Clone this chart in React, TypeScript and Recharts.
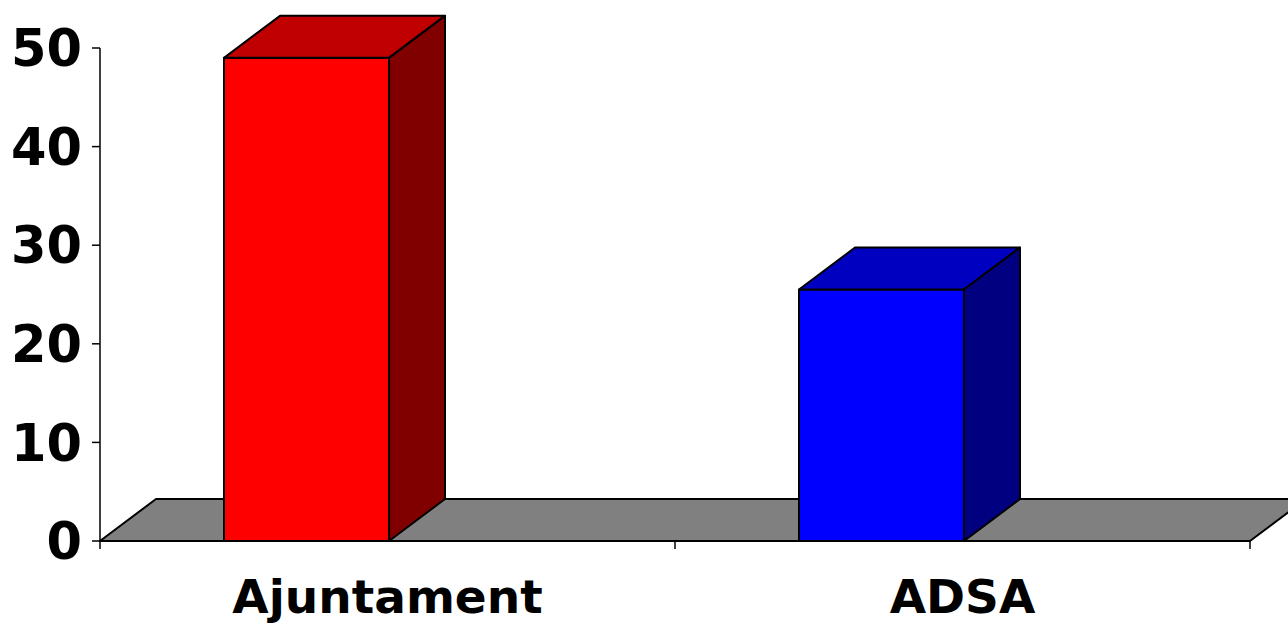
import { BarChart, Bar, XAxis, YAxis, ReferenceLine, Cell } from "recharts";

const categories = ["Ajuntament", "ADSA"];
const values = [49, 25.5];
const yTicks = [0, 10, 20, 30, 40, 50];

const frontColors = ["#ff0000", "#0000ff"];
const topColors = ["#c00000", "#0000c0"];
const sideColors = ["#800000", "#000080"];

const data = categories.map((name, i) => ({ name, value: values[i] }));

// 3d look
const DX = 56;
const DY = 42;
const BAR_SHIFT = -81;

const Box = (props: any) => {
  const { x, y, width, height, index } = props;
  const l = x + BAR_SHIFT;
  const r = l + width;
  const b = y + height;
  return (
    <g stroke="#000" strokeWidth={2} strokeLinejoin="round">
      <rect x={l} y={y} width={width} height={height} fill={frontColors[index]} />
      <polygon points={`${l},${y} ${l + DX},${y - DY} ${r + DX},${y - DY} ${r},${y}`} fill={topColors[index]} />
      <polygon points={`${r},${y} ${r + DX},${y - DY} ${r + DX},${b - DY} ${r},${b}`} fill={sideColors[index]} />
    </g>
  );
};

const Floor = (props: any) => {
  const { x1, y1, x2 } = props;
  return (
    <polygon
      points={`${x1},${y1} ${x2},${y1} ${x2 + DX},${y1 - DY} ${x1 + DX},${y1 - DY}`}
      fill="#808080"
      stroke="#000"
      strokeWidth={2}
      strokeLinejoin="round"
    />
  );
};

const CatTick = (props: any) => {
  const { x, y, payload, index, visibleTicksCount } = props;
  const half = payload && payload.offset ? payload.offset : 287.5;
  const last = index === (visibleTicksCount || categories.length) - 1;
  return (
    <g>
      <line x1={x - half} y1={y} x2={x - half} y2={y + 8} stroke="#000" strokeWidth={1.5} />
      {last && <line x1={x + half} y1={y} x2={x + half} y2={y + 8} stroke="#000" strokeWidth={1.5} />}
      <text
        x={x}
        y={y + 72}
        textAnchor="middle"
        fontFamily="DejaVu Sans"
        fontWeight="bold"
        fontSize={47}
        fill="#000"
      >
        {payload.value}
      </text>
    </g>
  );
};

export default function App() {
  return (
    <div style={{ position: "absolute", left: 0, top: 0, width: 1288, height: 624, background: "#fff" }}>
      <BarChart
        width={1288}
        height={624}
        data={data}
        margin={{ top: 48, right: 38, bottom: 0, left: 0 }}
        barSize={165}
      >
        <XAxis
          dataKey="name"
          axisLine={false}
          tickLine={false}
          tickSize={0}
          tickMargin={0}
          height={83}
          tick={<CatTick />}
          interval={0}
        />
        <YAxis
          domain={[0, 50]}
          ticks={yTicks}
          width={100}
          axisLine={{ stroke: "#000", strokeWidth: 1.5 }}
          tickLine={{ stroke: "#000", strokeWidth: 1.5 }}
          tickSize={8}
          tickMargin={10}
          tick={{ fill: "#000", fontFamily: "DejaVu Sans", fontWeight: "bold", fontSize: 51 }}
        />
        <ReferenceLine y={0} shape={<Floor />} zIndex={-1} />
        <Bar dataKey="value" shape={<Box />} isAnimationActive={false}>
          {data.map((d, i) => (
            <Cell key={d.name} fill={frontColors[i]} />
          ))}
        </Bar>
      </BarChart>
    </div>
  );
}
